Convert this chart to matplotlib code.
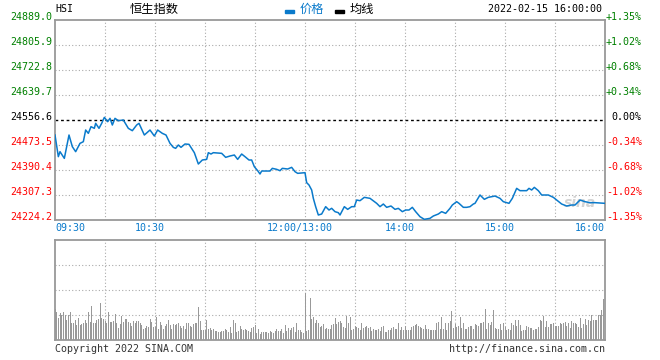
import numpy as np
import matplotlib.pyplot as plt
from matplotlib import transforms

# intraday data, HSI 2022-02-15 (minute index: 0 = 09:30, 150 = 12:00/13:00, 330 = 16:00)
prev_close = 24556.6
price_ticks = [24224.2, 24307.3, 24390.4, 24473.5, 24556.6, 24639.7, 24722.8, 24805.9, 24889.0]

minutes = [0, 2, 3, 5.6, 8.4, 10.4, 12.4, 15, 17, 18.4, 20, 21.6, 23.6, 24.4, 26.4, 28, 29.6,
           31.6, 33, 34.4, 36, 38, 41, 44, 46.4, 49, 50.4, 53.6, 57, 59.6, 61.6, 64.4, 66.6,
           69, 71, 72.4, 74, 75.6, 78, 80.4, 83.6, 86, 88.4, 91, 92, 93.6, 95, 100, 102.4,
           105, 107.6, 109.6, 112, 114, 116.4, 118, 119.6, 121.6, 123, 124, 129, 130.4, 133,
           135, 136.4, 139.6, 142, 144, 145.6, 150, 151, 152.4, 154, 155, 156.4, 158, 160,
           162.4, 164.4, 166, 168, 170, 171, 173.6, 175.6, 178, 179.6, 181, 183, 185.6, 189,
           193, 195, 197, 199, 201.6, 204, 206, 208.4, 210.4, 212.4, 214.4, 216.4, 219, 221.6,
           225, 227, 230, 232, 234.4, 237, 238.4, 241, 242.4, 245, 247, 249, 251, 252, 255,
           257.6, 260, 264, 267, 269, 271, 272.4, 274.4, 277, 279, 283, 284.4, 286, 287.6,
           290, 292, 296, 299, 301, 304, 307, 310, 312, 315, 318, 321, 324, 330]
prices = [24506.7, 24434.7, 24451.3, 24429.1, 24506.7, 24467.9, 24451.3, 24479.0, 24484.5,
          24523.3, 24512.2, 24534.4, 24528.9, 24545.5, 24528.9, 24545.5, 24565.4, 24551.0,
          24562.1, 24539.9, 24562.1, 24554.3, 24556.6, 24528.9, 24521.1, 24539.9, 24545.5,
          24506.7, 24523.3, 24503.4, 24523.3, 24512.2, 24506.7, 24479.0, 24465.7, 24462.4,
          24473.5, 24465.7, 24476.8, 24475.7, 24448.0, 24410.3, 24423.6, 24425.8, 24448.0,
          24443.5, 24448.0, 24445.8, 24432.5, 24436.9, 24440.2, 24425.8, 24443.5, 24434.7,
          24423.6, 24423.6, 24401.4, 24388.1, 24377.1, 24387.0, 24387.0, 24395.9, 24392.6,
          24388.1, 24395.9, 24393.7, 24399.2, 24384.8, 24379.3, 24381.5, 24348.3, 24340.5,
          24323.9, 24296.2, 24268.5, 24240.8, 24244.1, 24268.5, 24257.4, 24263.0, 24251.9,
          24248.5, 24240.8, 24268.5, 24259.6, 24268.5, 24268.5, 24290.6, 24288.4, 24299.5,
          24296.2, 24279.6, 24268.5, 24277.3, 24266.3, 24270.7, 24259.6, 24262.9, 24251.9,
          24257.4, 24257.4, 24266.3, 24251.9, 24235.2, 24226.4, 24229.7, 24237.5, 24244.1,
          24251.9, 24246.3, 24263.0, 24274.0, 24285.1, 24279.6, 24266.3, 24266.3, 24268.5,
          24277.3, 24279.6, 24307.3, 24292.9, 24299.5, 24303.9, 24296.2, 24285.1, 24281.8,
          24279.6, 24296.2, 24329.4, 24321.7, 24321.7, 24329.4, 24323.9, 24332.7, 24321.7,
          24307.3, 24307.3, 24299.5, 24290.6, 24277.3, 24270.7, 24274.0, 24274.0, 24290.6,
          24285.1, 24281.8, 24281.8, 24279.6]

# volume per minute (relative units, panel top = 100)
vol_am = [31, 28, 22, 27, 25, 28, 25, 20, 25, 28, 17, 17, 20, 15, 22, 15, 16, 17, 20, 17,
          28, 18, 34, 17, 17, 20, 21, 37, 22, 21, 19, 17, 28, 18, 18, 19, 26, 17, 12, 16,
          24, 18, 21, 21, 18, 17, 14, 19, 17, 19, 19, 17, 15, 11, 12, 14, 13, 21, 18, 13,
          13, 23, 11, 18, 15, 11, 14, 16, 20, 15, 11, 16, 15, 16, 17, 14, 12, 14, 11, 17,
          17, 14, 13, 16, 17, 17, 33, 19, 10, 10, 10, 20, 11, 12, 10, 11, 9, 9, 8, 8,
          9, 9, 11, 10, 8, 13, 7, 20, 17, 8, 9, 14, 11, 10, 11, 10, 9, 8, 12, 13,
          15, 7, 11, 6, 8, 8, 8, 8, 7, 9, 8, 7, 9, 11, 9, 9, 11, 7, 15, 9,
          12, 10, 12, 13, 8, 17, 10, 10, 8, 7]
vol_pm = [47, 9, 10, 42, 21, 23, 17, 20, 17, 13, 14, 16, 11, 12, 11,
          11, 15, 16, 22, 16, 18, 19, 17, 13, 12, 24, 17, 23, 10, 11, 14, 13, 12, 10, 17,
          12, 13, 14, 12, 13, 9, 11, 10, 10, 11, 9, 13, 14, 8, 8, 10, 10, 12, 13, 11,
          11, 17, 10, 13, 10, 14, 10, 10, 10, 13, 14, 15, 16, 14, 13, 12, 11, 15, 11, 11,
          10, 10, 10, 10, 17, 18, 11, 23, 11, 17, 10, 17, 19, 29, 12, 16, 13, 14, 23, 12,
          17, 11, 11, 13, 14, 14, 11, 16, 15, 14, 17, 17, 18, 31, 11, 17, 15, 18, 30, 12,
          11, 11, 16, 10, 17, 13, 10, 11, 10, 17, 15, 20, 14, 20, 15, 9, 10, 10, 14, 13,
          12, 12, 10, 11, 11, 13, 20, 19, 24, 13, 19, 13, 16, 16, 17, 14, 14, 14, 17, 16,
          17, 18, 14, 17, 12, 19, 17, 17, 16, 13, 22, 12, 16, 21, 15, 20, 19, 25, 20, 20,
          20, 25, 25, 30, 41, 30]
volume = vol_am + vol_pm

time_ticks = [0, 60, 150, 210, 270, 330]
time_labels = ['09:30', '10:30', '12:00/13:00', '14:00', '15:00', '16:00']

mono = 'DejaVu Sans Mono'
cjk = ['Noto Sans CJK SC', 'DejaVu Sans']
blue = '#0a7acb'
green = '#008000'
red = '#ff0000'
grid_c = '#aaaaaa'
spine_c = '#999999'

fig = plt.figure(figsize=(6.6, 3.6), dpi=100)
ax = fig.add_axes([55/660, 1-220/360, 550/660, 200/360])
axv = fig.add_axes([55/660, 1-340/360, 550/660, 100/360])

# price panel
ax.plot(minutes, prices, color=blue, lw=1.1, zorder=3)
ax.axhline(prev_close, color='black', lw=1.0, ls=(0, (2, 2)), zorder=2)
ax.set_xlim(0, 330)
ax.set_ylim(price_ticks[0], price_ticks[-1])
for t in np.arange(30, 330, 30):
    ax.axvline(t, color=grid_c, lw=0.8, ls=(0, (1, 2)), zorder=1)
for v in price_ticks[1:-1]:
    if v != prev_close:
        ax.axhline(v, color=grid_c, lw=0.8, ls=(0, (1, 2)), zorder=1)
ax.set_xticks([])
ax.set_yticks([])

bt = transforms.blended_transform_factory(ax.transAxes, ax.transData)
for v in price_ticks:
    pct = (v / prev_close - 1) * 100
    if abs(pct) < 0.005:
        c = 'black'
        ptxt = '0.00%'
    elif pct > 0:
        c = green
        ptxt = '+%.2f%%' % pct
    else:
        c = red
        ptxt = '%.2f%%' % pct
    ax.text(-0.005, v, '%.1f' % v, transform=bt, ha='right', va='baseline',
            color=c, family=mono, fontsize=7.2)
    ax.text(1.067, v, ptxt, transform=bt, ha='right', va='baseline',
            color=c, family=mono, fontsize=7.2)

bx = transforms.blended_transform_factory(ax.transData, ax.transAxes)
shift = transforms.ScaledTranslation(-5/100, 0, fig.dpi_scale_trans)
for t, lab in zip(time_ticks, time_labels):
    if t == 0:
        ha, tr = 'left', bx
    elif t == 330:
        ha, tr = 'right', bx
    else:
        ha, tr = 'center', bx + shift
    ax.text(t, -0.015, lab, transform=tr, ha=ha, va='top', color=blue,
            family=mono, fontsize=7.2)

# watermark
ax.text(0.955, 0.085, 'sina', transform=ax.transAxes, ha='center', va='center',
        color='#c8c8c8', fontsize=10, style='italic', fontweight='bold', alpha=0.8, zorder=2)

# volume panel
axv.bar(np.arange(len(volume)), volume, width=0.6, color='#999999', linewidth=0,
        antialiased=False, zorder=2)
axv.set_xlim(0, 330)
axv.set_ylim(0, 100)
for t in np.arange(30, 330, 30):
    axv.axvline(t, color=grid_c, lw=0.8, ls=(0, (1, 2)), zorder=1)
for v in [25, 50, 75]:
    axv.axhline(v, color=grid_c, lw=0.8, ls=(0, (1, 2)), zorder=1)
axv.set_xticks([])
axv.set_yticks([])

for a in (ax, axv):
    for s in a.spines.values():
        s.set_color(spine_c)
        s.set_linewidth(1.3)

# header
fig.text(55/660, 1-9/360, 'HSI', ha='left', va='center', family=mono, fontsize=7.2)
fig.text(154/660, 1-9.5/360, '恒生指数', ha='center', va='center', family=cjk, fontsize=8.8)
fig.patches.append(plt.Rectangle((285/660, 1-12.5/360), 9/660, 2.5/360, color=blue,
                                 transform=fig.transFigure, figure=fig))
fig.text(300/660, 1-9.5/360, '价格', ha='left', va='center', family=cjk, fontsize=8.8, color=blue)
fig.patches.append(plt.Rectangle((335/660, 1-12.5/360), 9/660, 2.5/360, color='black',
                                 transform=fig.transFigure, figure=fig))
fig.text(350/660, 1-9.5/360, '均线', ha='left', va='center', family=cjk, fontsize=8.8)
fig.text(602/660, 1-9/360, '2022-02-15 16:00:00', ha='right', va='center',
         family=mono, fontsize=7.2)

# footer
fig.text(55/660, 1-349/360, 'Copyright 2022 SINA.COM', ha='left', va='center',
         family=mono, fontsize=7.2, color='#333333')
fig.text(605/660, 1-349/360, 'http://finance.sina.com.cn', ha='right', va='center',
         family=mono, fontsize=7.2, color='#333333')

fig.savefig('out.png', dpi=100)
